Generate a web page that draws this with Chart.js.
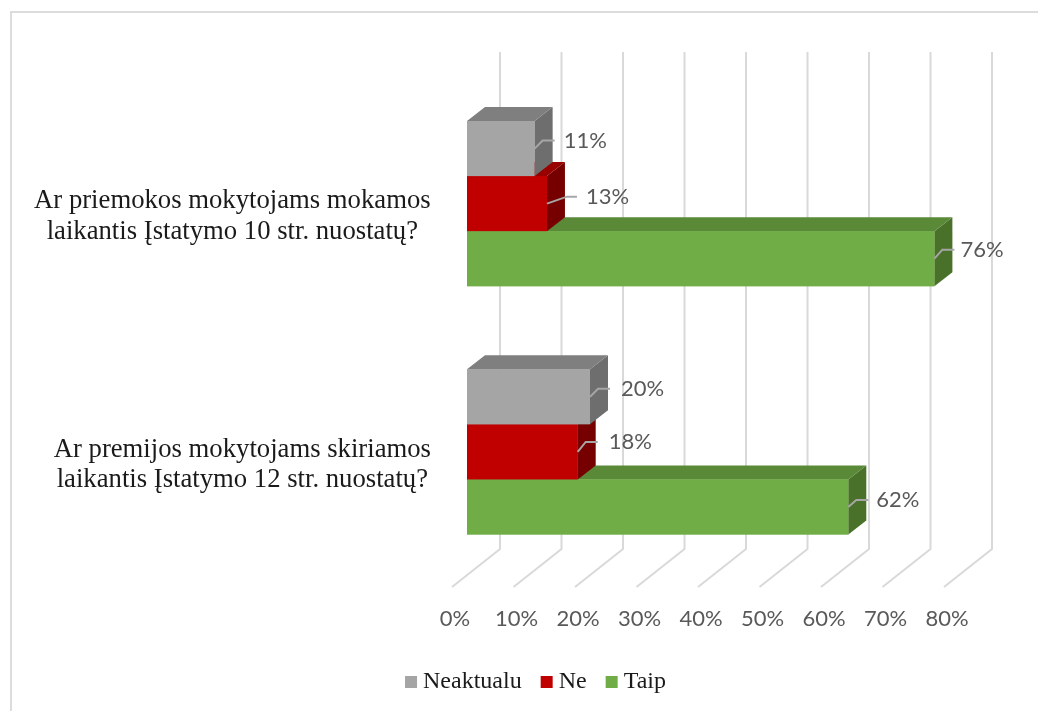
<!DOCTYPE html>
<html><head><meta charset="utf-8">
<style>html,body{margin:0;padding:0;background:#fff}#w{position:relative;width:1038px;height:711px}</style>
<script src="https://cdn.jsdelivr.net/npm/chart.js@4"></script></head>
<body><div id="w"><canvas id="c" width="1038" height="711"></canvas></div>
<script>
const categories = [
  ["Ar priemokos mokytojams mokamos","laikantis Įstatymo 10 str. nuostatų?"],
  ["Ar premijos mokytojams skiriamos","laikantis Įstatymo 12 str. nuostatų?"]
];
const neaktualu = [11, 20];
const ne = [13, 18];
const taip = [76, 62];
const seriesNames = ["Neaktualu","Ne","Taip"];
const frontColors = ["#a5a5a5","#c00000","#70ad47"];
const topColors = ["#7f7f7f","#990000","#5a8a38"];
const sideColors = ["#6e6e6e","#760000","#4a7129"];
const DX = 18, DY = 14;
const labelDx = [[29,31],[39,31],[26,28]];
const labelDy = [[-8,-8],[-7,-10],[-9,-7]];
const labelFont = '22px Lato';

const frame = {id:'frame',beforeDraw(ch){const c=ch.ctx;c.save();c.strokeStyle='#dcdcdc';c.lineWidth=2;
  c.beginPath();c.moveTo(11,711);c.lineTo(11,12);c.lineTo(1038,12);c.stroke();c.restore();}};

const moveLegend = {id:'moveLegend',afterLayout(ch){const l=ch.legend;l.left+=59;l.right+=59;l.top-=7;l.bottom-=7;}};

const grid3d = {id:'grid3d',beforeDatasetsDraw(ch){
  const c=ch.ctx,x=ch.scales.x;c.save();c.strokeStyle='#d9d9d9';c.lineWidth=2;
  x.ticks.forEach(t=>{const p=x.getPixelForValue(t.value);
    c.beginPath();c.moveTo(p-15,587);c.lineTo(p+33,549);c.lineTo(p+33,52);c.stroke();});
  c.restore();}};

const bars3d = {id:'bars3d',afterDatasetsDraw(ch){
  const c=ch.ctx;c.save();
  [2,1,0].forEach(di=>{
    ch.getDatasetMeta(di).data.forEach(b=>{
      const {x,y,base,height}=b.getProps(['x','y','base','height'],true);
      const t=y-height/2,bt=y+height/2;
      c.fillStyle=sideColors[di];c.beginPath();c.moveTo(x,t);c.lineTo(x+DX,t-DY);c.lineTo(x+DX,bt-DY);c.lineTo(x,bt);c.closePath();c.fill();
      c.fillStyle=topColors[di];c.beginPath();c.moveTo(base,t);c.lineTo(base+DX,t-DY);c.lineTo(x+DX,t-DY);c.lineTo(x,t);c.closePath();c.fill();
      c.fillStyle=frontColors[di];c.fillRect(base,t,x-base,height);
    });
  });
  c.font=labelFont;c.textBaseline='middle';c.textAlign='left';
  [0,1,2].forEach(di=>{
    const ds=ch.data.datasets[di];
    ch.getDatasetMeta(di).data.forEach((b,i)=>{
      const {x,y}=b.getProps(['x','y'],true);
      const dy=labelDy[di][i], wide=di===1&&i===0;
      c.strokeStyle='#a6a6a6';c.lineWidth=2;c.beginPath();c.moveTo(x,y);
      c.lineTo(x+(wide?20:8),y+dy);c.lineTo(x+(wide?30:20),y+dy);
      c.stroke();
      c.fillStyle='#595959';
      c.fillText(ds.data[i]+'%',x+labelDx[di][i],y+dy);
    });
  });
  c.restore();}};

new Chart(document.getElementById('c'),{
  type:'bar',
  data:{labels:categories,datasets:[
    {label:seriesNames[0],data:neaktualu,backgroundColor:frontColors[0]},
    {label:seriesNames[1],data:ne,backgroundColor:frontColors[1]},
    {label:seriesNames[2],data:taip,backgroundColor:frontColors[2]}
  ]},
  plugins:[frame,moveLegend,grid3d,bars3d],
  options:{
    indexAxis:'y',responsive:false,animation:false,
    devicePixelRatio:1,
    layout:{padding:{left:0,right:79,top:79.5,bottom:0}},
    datasets:{bar:{categoryPercentage:0.665,barPercentage:1}},
    plugins:{
      tooltip:{enabled:false},
      legend:{position:'bottom',align:'center',
        labels:{font:{family:'"Liberation Serif"',size:24},color:'#1a1a1a',usePointStyle:true,pointStyle:'rect',boxWidth:0.01,boxHeight:12,padding:25}}
    },
    scales:{
      x:{min:0,max:80,position:'bottom',
        afterFit(s){s.height=76;},
        grid:{display:false},border:{display:false},
        ticks:{stepSize:10,padding:22,labelOffset:-12,maxRotation:0,color:'#595959',font:{family:'Lato',size:22},callback:v=>v+'%'}},
      y:{
        afterFit(s){s.width=467;},
        grid:{display:false},border:{display:false},
        ticks:{crossAlign:'center',padding:28,labelOffset:13,color:'#1a1a1a',
          font:{family:'"Liberation Serif"',size:26.7,lineHeight:1.14},
          callback(v,i){return this.getLabelForValue(v).map(s=>(i===1?'   ':'')+s);}}}
    }
  }
});
</script></body></html>
